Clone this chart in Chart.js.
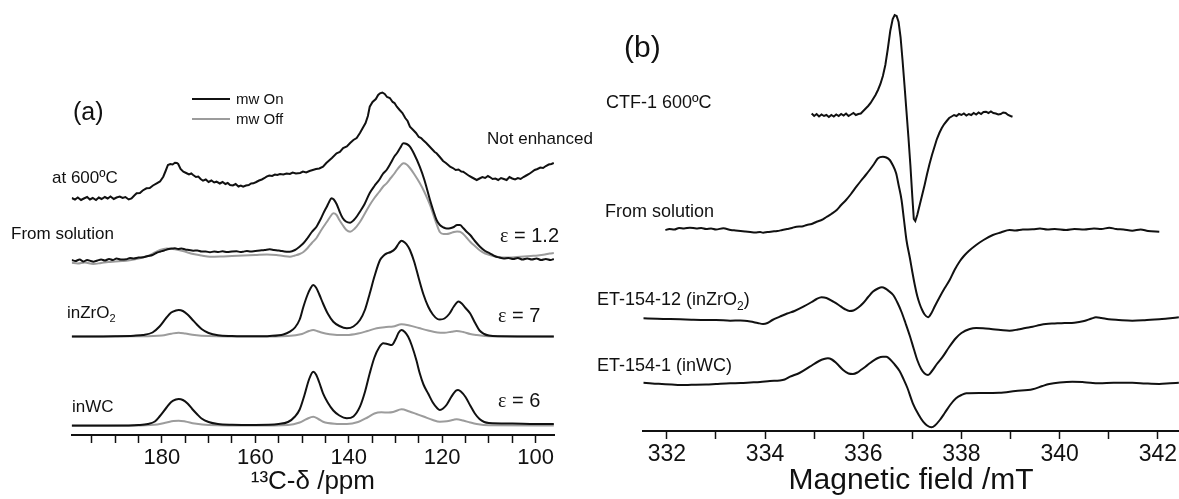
<!DOCTYPE html>
<html><head><meta charset="utf-8">
<script src="https://cdn.jsdelivr.net/npm/chart.js@4.4.1/dist/chart.umd.min.js"></script>
<style>
html,body{margin:0;padding:0;background:#fff;}
#wrap{position:relative;width:1179px;height:499px;overflow:hidden;font-family:"Liberation Sans",Arial,sans-serif;color:#111;}
.lab{position:absolute;white-space:nowrap;line-height:1;}
.eps{font-family:"Liberation Serif","DejaVu Serif",serif;}
.leg{position:absolute;height:0;}
</style></head>
<body><div id="wrap">
<canvas id="cL" width="600" height="499" style="position:absolute;left:0;top:0;"></canvas>
<canvas id="cR" width="589" height="499" style="position:absolute;left:590px;top:0;"></canvas>

<div class="lab" style="left:73px;top:99px;font-size:25px;">(a)</div>
<div class="leg" style="left:192px;top:98px;width:38px;border-top:2px solid #111;"></div>
<div class="leg" style="left:192px;top:118px;width:38px;border-top:2px solid #9c9c9c;"></div>
<div class="lab" style="left:236px;top:91px;font-size:15px;">mw On</div>
<div class="lab" style="left:236px;top:111px;font-size:15px;">mw Off</div>
<div class="lab" style="left:52px;top:169px;font-size:17px;">at 600ºC</div>
<div class="lab" style="left:11px;top:225px;font-size:17px;">From solution</div>
<div class="lab" style="left:67px;top:304px;font-size:17px;">inZrO<sub style="font-size:11px;">2</sub></div>
<div class="lab" style="left:72px;top:398px;font-size:17px;">inWC</div>
<div class="lab" style="left:487px;top:130px;font-size:17px;">Not enhanced</div>
<div class="lab" style="left:500px;top:225px;font-size:20px;"><span class="eps">ε</span> = 1.2</div>
<div class="lab" style="left:498px;top:305px;font-size:20px;"><span class="eps">ε</span> = 7</div>
<div class="lab" style="left:498px;top:390px;font-size:20px;"><span class="eps">ε</span> = 6</div>

<div class="lab" style="left:624px;top:32px;font-size:30px;">(b)</div>
<div class="lab" style="left:606px;top:93px;font-size:18px;">CTF-1 600ºC</div>
<div class="lab" style="left:605px;top:202px;font-size:18px;">From solution</div>
<div class="lab" style="left:597px;top:290px;font-size:18px;">ET-154-12 (inZrO<sub style="font-size:12px;">2</sub>)</div>
<div class="lab" style="left:597px;top:356px;font-size:18px;">ET-154-1 (inWC)</div>
</div>
<script>
// ---------- Panel (a): 13C NMR, [ppm, intensity] ----------
const ppmTicksMajor = [180, 160, 140, 120, 100];
const offsetsA = [237, 175, 98.5, 9.5]; // at600, solution, inZrO2, inWC baselines

const at600 = [[199.3,0],[198.6,-1.5],[198.0,0.5],[197.3,-2],[196.7,-0.5],[196.0,1],[195.4,-1.5],[194.8,0],[194.1,-2],[193.5,0.5],[192.9,-1],[192.2,1],[191.6,-0.5],[191.0,1.5],[190.3,-1],[189.7,0.5],[189.0,1.5],[188.4,0],[187.8,1],[187.1,-1.5],[186.5,-0.5],[185.9,2.5],[185.4,4.7],[184.7,5],[184.1,7.5],[183.3,9.7],[182.6,10],[181.9,12.5],[181.1,14.7],[180.4,16.5],[179.7,21.3],[179.2,27],[178.7,33],[178.2,34],[177.7,33.5],[177.2,35.3],[176.8,35],[176.5,34],[176.0,29],[175.4,26.3],[174.8,25],[174.2,23.5],[173.7,24.5],[173.3,23],[172.7,21],[172.2,21.5],[171.7,19],[171.2,17.3],[170.6,18.5],[170.0,16],[169.4,17.5],[168.8,15.5],[168.3,16.3],[167.6,14.5],[167.0,16],[166.4,14],[165.9,15],[165.4,13],[164.8,12.5],[164.2,14],[163.6,11.5],[163.1,12.5],[162.6,11.3],[162.0,12.5],[161.4,13],[160.9,14.5],[160.4,14.7],[159.8,16],[159.2,17.5],[158.6,18.5],[158.0,20],[157.6,21.3],[157.0,22.5],[156.4,22],[155.8,23.5],[155.3,23],[154.7,24],[154.0,23.5],[153.3,24.5],[152.6,24],[152.0,25.5],[151.3,24.5],[150.4,25],[149.8,26.5],[149.1,25.5],[148.4,27],[147.7,28],[147.0,29],[146.3,29.5],[145.5,31.3],[144.8,35],[144.2,37.5],[143.6,40],[142.6,44.7],[141.9,46],[141.2,50],[140.4,51.5],[139.7,55],[139.0,58],[138.3,60],[137.6,65],[137.0,70],[136.4,75],[135.9,82],[135.5,91.3],[134.9,96],[134.2,99],[133.7,103],[133.3,104.7],[132.8,105.5],[132.3,104],[131.8,101],[131.2,100],[130.6,96],[130.2,95],[129.7,91.3],[129.1,88],[128.5,85],[127.9,80],[127.4,77],[126.9,71.3],[126.2,68],[125.6,65],[125.0,61],[124.5,60],[124.1,58],[123.4,55],[122.8,52],[122.2,49],[121.6,46],[121.2,44.7],[120.5,41],[119.8,37],[119.2,35],[118.7,33],[118.3,31.3],[117.7,30],[117.1,28],[116.5,28.5],[115.9,26.5],[115.5,26.3],[114.8,24],[114.2,22],[113.6,20.5],[113.0,19],[112.6,18],[112.0,19.5],[111.4,21],[110.8,20],[110.2,22],[109.8,21],[109.2,19],[108.6,19.5],[108.0,18],[107.4,20],[106.8,19],[106.2,18],[105.6,21],[105.0,19.5],[104.4,18.5],[103.8,20],[103.2,19],[102.6,21],[102.0,22.5],[101.4,24],[100.8,26],[100.2,28],[99.6,29],[99.0,30.5],[98.4,30],[97.8,32],[97.2,33.5],[96.6,34],[96.1,35]];

const solOn = [[199.3,0],[198.5,-1],[197.6,0.5],[196.8,-1.5],[196,0],[195.2,-1],[194.7,-1.7],[193.8,-0.5],[193,0.5],[192.2,-0.5],[191.3,1],[190.5,0],[189.7,1.5],[188.8,0.5],[187.6,0.7],[186.8,2],[186,1.5],[185,2.5],[184,2.7],[183,4],[182,5],[181.2,7],[180.4,8.3],[179.5,9.5],[178.5,11],[177.7,11.5],[177.2,11.7],[176.5,11],[175.8,11.5],[175,10.5],[174.2,10],[173.3,9.3],[172.4,9.5],[171.5,8.5],[170.6,8.5],[169.7,7.7],[168.8,8.5],[167.9,8],[167,8.7],[166,8],[165,8.5],[164,8.7],[163.2,8],[162.6,8.3],[161.8,9],[161,8.5],[160,9],[159,9.5],[158,10],[156.9,10.7],[156,10],[155.2,9.5],[154.7,9.3],[153.8,8.5],[152.6,8.3],[151.5,10],[150.6,13],[149.7,16.7],[148.8,22],[147.9,28],[146.9,33.3],[146,41],[145.3,48],[144.7,53.3],[144.2,58],[143.7,61.7],[143.2,60.5],[142.6,56],[142,49],[141.3,42],[140.6,38.5],[139.7,37.3],[138.9,40],[138.2,44],[137.6,48.3],[136.6,56],[135.5,67],[134.5,74],[133.5,80],[132.7,86],[131.9,90],[131,97],[130.3,103],[129.7,106.7],[129,112],[128.3,116.7],[127.6,116],[126.9,113.3],[126,106],[124.8,93.3],[123.8,80],[122.6,60],[121.8,48],[121.2,40],[120.5,35],[119.7,32.5],[119,31.5],[118.3,31.7],[117.5,33],[116.8,35],[116.2,35],[115.5,32],[114.7,28],[114,25],[113,19],[111.9,13.3],[110.8,9],[109.8,6.7],[108.8,4],[107.8,2.5],[106.8,1.5],[105.8,2],[104.8,1],[103.8,2],[102.8,0.5],[101.8,1.5],[100.8,0.5],[99.8,1.5],[98.8,0],[97.8,1],[96.8,0],[96.1,1]];

const solOff = [[199.3,-2.7],[198,-3.5],[196.5,-2.5],[194.7,-4],[193,-3],[191.5,-2],[190,-1.5],[188.5,-1],[187.6,-0.7],[186,0.5],[184.5,2],[183,4],[181.5,7.5],[180.4,10],[179,11.5],[177.2,10.7],[175.5,9],[173.3,6],[171.5,4.5],[169.7,3.3],[167.5,3.5],[165,4],[162.5,4.5],[160,5],[157.5,5.5],[155.5,5],[154,4],[152.6,3.3],[151.5,4.5],[150.5,6],[149.7,8],[148.8,12],[147.9,17],[146.9,22],[146,29],[145.3,34],[144.7,38],[144,43],[143.3,46.7],[142.6,45],[142,40],[141.3,35],[140.5,30],[139.7,28.3],[138.8,31],[137.6,38],[136.6,46],[135.5,55],[134.5,62],[133.5,68],[132.7,73],[131.9,76.7],[131,82],[130.3,86],[129.7,90],[129,94],[128.3,96.7],[127.6,95.5],[126.9,92],[126,86],[124.8,77],[123.8,68],[122.6,55],[121.8,44],[121.2,36],[120.5,28],[119.7,26],[119,26],[118.3,26.7],[117.5,28],[116.8,28.5],[116.2,28.3],[115.5,26],[114.7,22],[114,18.3],[113,14],[111.9,9.5],[110.8,6.5],[109.8,5],[108.5,3.5],[107,2.5],[105.5,2.5],[104,3],[102.5,3.5],[101,4],[99.5,4.5],[98,5.5],[97,6.5],[96.1,7]];

const zrOn = [[199.3,0],[190,0.3],[186,0.8],[184,1.5],[182,4],[180.5,10],[179,19],[178,24],[177,26],[176.4,26.5],[175.5,25.5],[174.5,22],[173.5,17],[172.5,12],[171.5,7.5],[170,3.5],[168,1.2],[165,0.5],[160,0.2],[156.9,0.5],[154,2],[152.6,4.8],[151.5,9],[150.5,17],[149.7,29.8],[148.8,42],[148.2,48],[147.6,51.5],[147,49],[146.3,42],[145.5,33],[144.5,23],[143.3,14.8],[142,10.5],[140.4,8.2],[139,10],[137.6,16.5],[136.5,27],[135.5,43],[134.5,60],[133.3,76.5],[132.5,81],[131.9,83],[131,84.5],[130,88],[129.3,93],[128.7,95.8],[128,94],[127.3,90],[126.9,86.5],[126,75],[125,58],[124,42],[123,30],[122,22],[121,17.5],[120.5,17],[119.5,18],[118.5,22.5],[117.5,30],[116.5,35],[115.8,33],[115,28.5],[114,23],[113,14],[112,6],[111,2.5],[110,1],[108,0.3],[96.1,0]];

const zrOff = [[199.3,0],[185,0.2],[180,1],[178,2.8],[176.4,3.8],[175,3],[173,1.5],[170,0.5],[160,0],[153,0.5],[150,2.5],[148.5,5.5],[147.6,6.5],[146.5,5],[145,3],[143,1.8],[140.4,1.5],[138,3],[136,5.5],[134,8.3],[132,9.5],[130.5,10],[128.7,12.2],[127,11],[125,8.5],[123,6],[121,4],[119.5,3.8],[118,4.8],[116.9,5.5],[115.5,4.5],[114,2.5],[112.6,1.5],[110,0.3],[96.1,0]];

const wcOn = [[199.3,0],[190,0],[185,0.5],[183,1.5],[181.5,4],[180.5,9],[179,18],[178,23.5],[177,26],[176.4,26.5],[175.5,25.5],[174.5,22],[173.5,16.5],[172.5,11.5],[171.5,7],[170,3.5],[168,1.5],[165,0.8],[160,0.6],[155,1.5],[153,3.5],[151.5,9],[150.5,16],[149.5,30],[148.5,46],[147.6,53.8],[147,51],[146.3,43],[145.5,32.2],[144.5,23],[143.3,15],[142,10],[140.4,7.2],[139,9],[137.6,18.8],[136.5,34],[135.5,52.2],[134.5,68],[133.5,78],[132.6,82.2],[131.7,81.5],[130.8,80.5],[130,86],[129.3,93],[128.7,95.5],[128,93.5],[127.3,89],[126.5,80],[125.5,65],[124.8,52.2],[124,41],[123,32],[122,23],[121,17],[120.5,15.5],[119.8,17],[119,21],[118,29],[117,35],[116.6,35.5],[116,34],[115,28.5],[114,20],[113,12],[112,6.5],[111,3.5],[110,2.5],[105,2],[100,1.5],[96.1,1.5]];

const wcOff = [[199.3,-0.5],[185,0],[181,1],[179,3],[177.5,4.5],[176.4,4.8],[175,4],[173,2],[170,0.5],[160,0],[153,0.5],[150.5,3],[149,6.5],[147.6,8.8],[146.5,6.5],[145.5,3.8],[143,1.8],[140.4,1.5],[138,3.5],[136,8],[134.5,12],[133,13.2],[131.5,13],[130.5,13.5],[128.7,16.2],[127,14],[125.5,11.5],[124,9],[122,5.5],[120.5,3.8],[119,4.2],[117.5,5.8],[116.9,6.2],[115.5,5],[114,3],[112.6,1.5],[110,0.2],[96.1,0]];

// ---------- Panel (b): EPR, [mT, intensity] ----------
const mTTicksMajor = [332, 334, 336, 338, 340, 342];
const offsetsB = [316, 201, 111, 48]; // CTF-1, solution, ET-154-12, ET-154-1 baselines

const ctf = [[334.95,1.5],[335.0,-1],[335.05,1],[335.1,-1.5],[335.15,0.5],[335.2,-1],[335.25,0],[335.3,-2],[335.35,0],[335.4,-1.5],[335.45,0.5],[335.5,-1],[335.55,1],[335.6,-0.5],[335.65,1.5],[335.7,-1],[335.75,0.5],[335.8,2],[335.85,0],[335.9,1],[335.95,1.5],[336.0,4],[336.05,6.5],[336.1,9],[336.15,12],[336.2,16],[336.25,20],[336.3,25],[336.35,31],[336.4,39],[336.45,50],[336.5,66],[336.55,84],[336.6,96],[336.64,100],[336.68,99],[336.72,93],[336.76,78],[336.8,55],[336.84,30],[336.88,4],[336.92,-22],[336.96,-50],[337.0,-82],[337.03,-104],[337.06,-106],[337.1,-100],[337.15,-90],[337.2,-80],[337.25,-70],[337.3,-59],[337.35,-49],[337.4,-40],[337.45,-32],[337.5,-24],[337.55,-18],[337.6,-13],[337.65,-9],[337.7,-6],[337.75,-3],[337.8,-1.5],[337.85,0],[337.9,-1],[337.95,1],[338.0,0],[338.05,1.5],[338.1,-0.5],[338.15,1],[338.2,0],[338.25,2],[338.3,0.5],[338.35,2.5],[338.4,1],[338.45,3],[338.5,3.3],[338.55,2],[338.6,3.5],[338.65,2],[338.7,1.5],[338.75,0.5],[338.8,1],[338.85,2.5],[338.9,2],[338.95,0],[339.0,-1],[339.04,-1.7]];

const solEpr = [[331.97,0],[332.05,1],[332.15,0.5],[332.25,2],[332.35,1.5],[332.47,2.3],[332.6,1.5],[332.7,2],[332.8,1],[332.9,1.5],[333.0,0.5],[333.15,1.7],[333.3,0],[333.4,-0.5],[333.5,-1],[333.6,-1.5],[333.7,-2],[333.8,-2.5],[333.9,-2],[333.96,-2.7],[334.05,-2],[334.15,-1.5],[334.25,-1],[334.35,0],[334.45,1],[334.55,2],[334.64,3.3],[334.75,3.5],[334.85,5],[334.95,6],[335.05,8.3],[335.15,10],[335.25,13],[335.35,16],[335.46,20],[335.55,25],[335.65,30],[335.75,36],[335.86,43.3],[335.95,49],[336.05,55],[336.13,60],[336.22,66],[336.30,71.7],[336.40,73.3],[336.47,72.5],[336.54,70],[336.6,65],[336.67,56.7],[336.72,45],[336.78,30],[336.83,10],[336.88,-10],[336.95,-28],[337.0,-42],[337.05,-55],[337.1,-66],[337.15,-74],[337.2,-80],[337.25,-84.5],[337.32,-87.3],[337.39,-83],[337.45,-77],[337.56,-66.7],[337.66,-58],[337.76,-50],[337.86,-40],[337.96,-31.7],[338.05,-26],[338.15,-21],[338.3,-15],[338.45,-10],[338.64,-5],[338.8,-2.5],[338.98,0],[339.1,-0.5],[339.25,0.5],[339.45,0.7],[339.6,1.5],[339.75,0.5],[339.9,1],[340.13,0],[340.3,1],[340.5,0.5],[340.7,1.5],[340.85,1],[341.01,2.3],[341.15,1],[341.3,0.5],[341.48,-0.7],[341.65,0.5],[341.8,-1],[342.03,-1.7]];

const et12 = [[331.52,1.7],[331.8,1.2],[332.0,1],[332.27,0.7],[332.5,0.3],[332.8,0],[333.0,0],[333.29,-0.7],[333.5,-0.5],[333.7,-1.5],[333.85,-3],[333.96,-4],[334.05,-3],[334.15,0],[334.30,3.3],[334.45,6.5],[334.6,9],[334.78,13.3],[334.95,18],[335.05,21],[335.15,22.7],[335.25,22],[335.39,18.3],[335.5,15],[335.62,11],[335.72,9],[335.8,9.5],[335.9,12.5],[336.0,17],[336.1,23],[336.2,28.5],[336.3,31.5],[336.38,32.7],[336.45,31.5],[336.52,29],[336.61,25],[336.7,17],[336.78,8],[336.86,-3],[336.95,-16],[337.03,-29],[337.1,-40],[337.18,-49],[337.25,-53.5],[337.32,-55],[337.4,-51],[337.5,-44],[337.62,-36.7],[337.75,-27],[337.89,-18],[338.0,-13],[338.17,-9],[338.3,-8],[338.44,-8.3],[338.6,-9],[338.8,-10],[338.98,-10.7],[339.15,-9.5],[339.3,-8],[339.45,-6.7],[339.6,-5],[339.72,-4],[339.9,-3.5],[340.1,-3],[340.3,-2.7],[340.5,-1],[340.65,1.5],[340.74,2.7],[340.85,2],[341.0,0.7],[341.2,0],[341.48,-0.7],[341.7,-0.3],[341.85,0.3],[342.03,0.7],[342.2,1.5],[342.43,2.7]];

const et1 = [[331.52,0.3],[331.7,-0.5],[331.9,-1],[332.1,-1.5],[332.27,-2],[332.5,-1.8],[332.8,-1.5],[333.0,-1],[333.29,-0.3],[333.5,0],[333.7,0.5],[333.9,1],[334.1,2],[334.3,2.5],[334.4,3.5],[334.51,6.3],[334.7,10],[334.91,16.3],[335.1,22],[335.2,24],[335.28,24.7],[335.36,23.5],[335.45,20],[335.59,13],[335.7,9.5],[335.79,9],[335.88,10.5],[335.95,13],[336.05,16.5],[336.13,19.7],[336.3,25],[336.4,26.3],[336.47,26.3],[336.55,23.5],[336.64,18.5],[336.74,12],[336.82,4],[336.9,-5],[337.01,-20.3],[337.12,-31],[337.22,-38.7],[337.3,-42.5],[337.39,-44.3],[337.47,-42],[337.56,-37],[337.66,-30],[337.77,-22],[337.89,-15.3],[338.0,-12],[338.10,-10.3],[338.4,-10],[338.77,-9.7],[339.1,-8],[339.45,-6.3],[339.65,-3],[339.79,-1],[340.0,0.5],[340.26,1.3],[340.5,0.8],[340.81,-0.3],[341.1,0.3],[341.48,0.3],[341.75,-0.5],[342.03,-1],[342.25,-0.3],[342.43,0.3]];

// ---------- helpers ----------
const BLACK = '#111111', GRAY = '#9c9c9c';
const pts = (arr, off) => arr.map(([x, y]) => ({x: x, y: y + off}));
const ds = (arr, off, color, w, tension) => ({
  data: pts(arr, off), borderColor: color, borderWidth: w, pointRadius: 0,
  fill: false, tension: tension, cubicInterpolationMode: tension ? 'monotone' : 'default'
});
const FONT = "'Liberation Sans', Arial, sans-serif";

function xScale(opts) {
  return {
    type: 'linear', reverse: opts.reverse, min: opts.min, max: opts.max,
    ticks: {
      stepSize: opts.step, includeBounds: false, autoSkip: false, maxRotation: 0,
      color: '#111', padding: opts.pad, font: {family: FONT, size: opts.fs},
      callback: v => opts.major.includes(Math.round(v * 100) / 100) ? String(Math.round(v)) : ''
    },
    grid: {display: true, drawOnChartArea: false, drawTicks: true, tickLength: 8, tickColor: '#111', tickWidth: 1.5},
    border: {display: true, color: '#111', width: 2},
    title: {display: true, text: opts.title, color: '#111', font: {family: FONT, size: opts.tfs}, padding: {top: 0, bottom: opts.tpb}},
    afterFit: s => { s.height = opts.h; }
  };
}
const common = (padL, padR) => ({
  responsive: false, animation: false, devicePixelRatio: 1,
  layout: {padding: {left: padL, right: padR, top: 0, bottom: 0}},
  plugins: {legend: {display: false}, tooltip: {enabled: false}},
  elements: {line: {capBezierPoints: true}}
});

// ---------- Chart (a) ----------
new Chart(document.getElementById('cL'), {
  type: 'line',
  data: {datasets: [
    ds(at600, offsetsA[0], BLACK, 2, 0),
    ds(solOn, offsetsA[1], BLACK, 2, 0.3),
    ds(zrOn, offsetsA[2], BLACK, 2, 0.4),
    ds(wcOn, offsetsA[3], BLACK, 2, 0.4),
    ds(solOff, offsetsA[1], GRAY, 2, 0.3),
    ds(zrOff, offsetsA[2], GRAY, 2, 0.4),
    ds(wcOff, offsetsA[3], GRAY, 2, 0.4)
  ]},
  options: Object.assign(common(71.7, 46), {
    scales: {
      x: xScale({reverse: true, min: 96.06, max: 199.3, step: 5, major: ppmTicksMajor, fs: 22, pad: 2,
                 title: '\u00B9\u00B3C-\u03B4 /ppm', tfs: 26, tpb: 2, h: 64}),
      y: {display: false, min: 0, max: 435}
    }
  })
});

// ---------- Chart (b) ----------
new Chart(document.getElementById('cR'), {
  type: 'line',
  data: {datasets: [
    ds(ctf, offsetsB[0], BLACK, 2, 0),
    ds(solEpr, offsetsB[1], BLACK, 2, 0.3),
    ds(et12, offsetsB[2], BLACK, 2, 0.4),
    ds(et1, offsetsB[3], BLACK, 2, 0.4)
  ]},
  options: Object.assign(common(53.3, 0), {
    scales: {
      x: xScale({reverse: false, min: 331.52, max: 342.43, step: 1, major: mTTicksMajor, fs: 23, pad: 2,
                 title: 'Magnetic field /mT', tfs: 30, tpb: 0, h: 68}),
      y: {display: false, min: 0, max: 431}
    }
  })
});
</script>
</body></html>
